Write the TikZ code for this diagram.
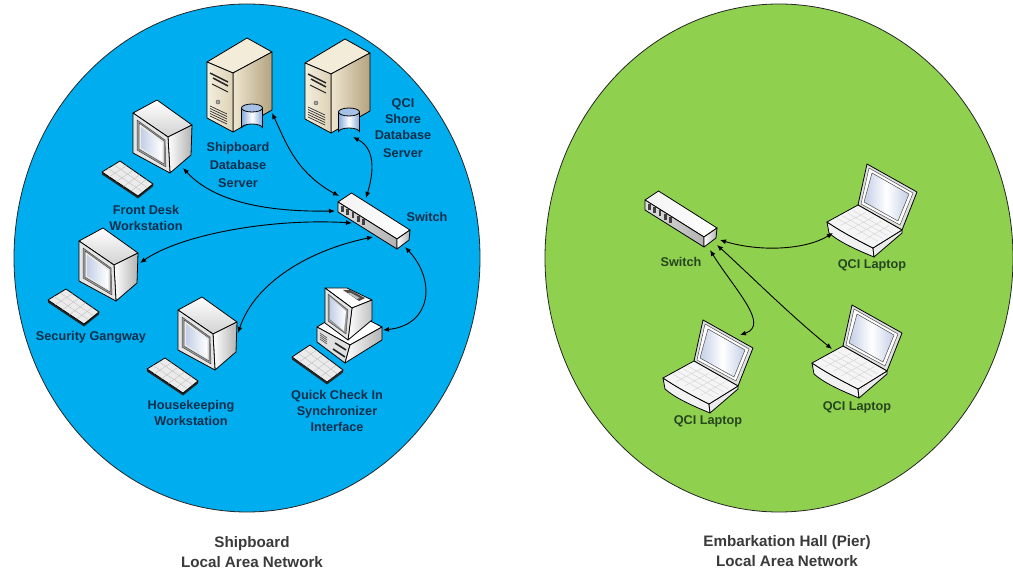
\documentclass[tikz,border=0pt]{standalone}
\usepackage{fontspec}
\setmainfont{Liberation Sans}
\usetikzlibrary{arrows.meta,calc}
\definecolor{lanblue}{HTML}{00ADEF}
\definecolor{langreen}{HTML}{8FD14F}
\definecolor{txtblue}{HTML}{0B2F4C}
\definecolor{txtgreen}{HTML}{27451F}
\definecolor{txtgrey}{HTML}{3A3A3A}
\definecolor{scrn}{HTML}{C4CFE6}
\definecolor{dbblue}{HTML}{86A9DA}
\definecolor{dbtop}{HTML}{A6C1E6}
\definecolor{srvtop}{HTML}{F3ECD8}
\definecolor{srvfa}{HTML}{F4EEDD}
\definecolor{srvfb}{HTML}{DDD2B6}
\definecolor{srvsa}{HTML}{EFE6CF}
\definecolor{srvsb}{HTML}{B3A380}
\tikzset{
  x=1pt,y=-1pt,
  lan/.style={draw=black!85,line width=.8pt},
  link/.style={{Latex[length=6pt,width=5pt]}-{Latex[length=6pt,width=5pt]},line width=.9pt,black},
  lblb/.style={font=\fontsize{12.7}{16}\selectfont\bfseries,text=txtblue,align=center,inner sep=0pt},
  lblg/.style={font=\fontsize{12.7}{16}\selectfont\bfseries,text=txtgreen,align=center,inner sep=0pt},
  captext/.style={font=\fontsize{15.2}{20}\selectfont\bfseries,text=txtgrey,align=center,inner sep=0pt},
  face/.style={draw=black,line width=.8pt,line join=round},
  thinface/.style={draw=black!70,line width=.5pt,line join=round},
  pics/keyboard/.style={code={
    \fill[black!85] (-31,59)--(5,83)--(5,85.5)--(-31,61.5)--cycle;
    \fill[black!85] (5,83)--(20,71)--(20,73.5)--(5,85.5)--cycle;
    \path[face,fill=black!8] (-31,59)--(-13,48)--(20,71)--(5,83)--cycle;
    \foreach \t in {.2,.4,.6,.8}{
      \draw[black!25,line width=.4pt] ($(-31,59)!\t!(5,83)$)--($(-13,48)!\t!(20,71)$);}
    \foreach \t in {.33,.66}{
      \draw[black!25,line width=.4pt] ($(-31,59)!\t!(-13,48)$)--($(5,83)!\t!(20,71)$);}
  }},
  pics/monitor/.style={code={
    \path[face,top color=white,bottom color=black!18] (0,0)--(24,-13)--(59,12)--(35,24)--cycle;
    \path[face,left color=white,right color=black!30] (35,24)--(59,12)--(58,42)--(37,60)--cycle;
    \path[face,fill=black!10] (0,0)--(35,24)--(37,60)--(0,40)--cycle;
    \path[thinface,fill=black!40] (4,7)--(32,27)--(33,54)--(4,37)--cycle;
    \path[thinface,fill=black!8] (6,10)--(31,28)--(31,51)--(6,36)--cycle;
    \path[left color=scrn,right color=white] (8,14)--(29,30)--(29,48)--(8,35)--cycle;
    \pic {keyboard};
  }},
  pics/server/.style={code={
    \path[face,fill=srvtop] (0,0)--(40,-24)--(65,-10)--(26,11)--cycle;
    \path[face,left color=srvsa,right color=srvsb] (26,11)--(65,-10)--(65,48)--(26,70)--cycle;
    \path[face,left color=srvfa,right color=srvfb] (0,0)--(26,11)--(26,70)--(0,56)--cycle;
    \draw[black!85,line width=1.5pt] (3,11)--(21,20) (6,16)--(21,24);
    \draw[black!85,line width=1pt] (5,22)--(21,30);
    \draw[black!70,fill=black!35,line width=.4pt] (11,40) circle (2);
    \foreach \d in {0,2.5,5,7.5,10}{
      \draw[black!80,line width=.7pt] (3,44+\d)--(20,52+\d);}
  }},
  pics/cylinder/.style={code={
    \path[face,left color=dbblue,right color=dbblue,middle color=white]
      (-10.5,-10)--(-10.5,10) arc[start angle=180,end angle=360,x radius=10.5,y radius=4]--(10.5,-10)--cycle;
    \path[face,fill=dbtop] (0,-10) ellipse[x radius=10.5,y radius=4];
  }},
  pics/switchbox/.style={code={
    \path[face,left color=black!5,right color=white] (0,0)--(13.5,-9)--(72,28)--(59,37)--cycle;
    \path[face,left color=black!12,right color=black!30] (0,0)--(59,37)--(59,47)--(0,10)--cycle;
    \path[face,left color=white,right color=black!30] (59,37)--(72,28)--(71,38)--(59,47)--cycle;
    \foreach \p in {0,1,2,3,4}{
      \fill[black!75] (3+\p*5.3,4+\p*3.2) rectangle ++(2.6,6);}
  }},
  pics/laptop/.style={code={
    \path[face,fill=black!12] (40,-58)--(90,-30)--(75,8)--(31,-17)--cycle;
    \path[thinface,fill=white] (42,-54)--(86,-29)--(73,3)--(34,-18)--cycle;
    \path[thinface,left color=scrn,right color=scrn,middle color=white] (45,-49)--(82,-28)--(71,-1)--(37,-20)--cycle;
    \path[face,fill=black!5] (0,0) .. controls (15,10) and (30,18) .. (46,26)--(47,35) .. controls (30,28) and (12,20) .. (2,11)--cycle;
    \path[face,fill=black!8] (46,26)--(75,8)--(75,11)--(47,35)--cycle;
    \path[face,fill=black!4] (0,0)--(31,-17)--(75,8)--(46,26) .. controls (30,18) and (15,10) .. (0,0)--cycle;
    \foreach \t in {.2,.4,.6,.8}{
      \draw[black!18,line width=.4pt] ($(5,-1)!\t!(46,22)$)--($(31,-14)!\t!(70,8)$);
      \draw[black!18,line width=.4pt] ($(5,-1)!\t!(31,-14)$)--($(46,22)!\t!(70,8)$);}
  }},
  pics/pcset/.style={code={
    \path[face,fill=white] (0,0)--(30,-18)--(65,0)--(33,18)--cycle;
    \path[face,fill=black!12] (0,0)--(33,18)--(28,36)--(0,15)--cycle;
    \path[face,left color=white,right color=black!30] (33,18)--(65,0)--(65,13)--(28,36)--cycle;
    \foreach \d in {0,2,4,6}{\draw[black!70,line width=.6pt] (3,6+\d)--(10,11+\d);}
    \draw[black!85,line width=1.6pt] (18,16)--(29,23) (16,22)--(28,30);
    \path[face,fill=white] (8,-39)--(30,-39)--(55,-27)--(35,-19)--cycle;
    \path[face,left color=white,right color=black!25] (35,-19)--(55,-27)--(55,-7)--(31,13)--cycle;
    \path[face,fill=black!10] (8,-39)--(35,-19)--(31,13)--(8,-4)--cycle;
    \path[thinface,fill=black!40] (11,-33)--(31,-17)--(29,7)--(11,-6)--cycle;
    \path[left color=scrn,right color=white] (13,-30)--(29,-16)--(27,4)--(13,-8)--cycle;
    \fill[black!70] (26,-37)--(33,-37)--(48,-29)--(42,-26)--cycle;
    \fill[black!25] (30,-34)--(34,-34)--(43,-29)--(40,-28)--cycle;
    \path[face,fill=black!8] (-25,30)--(-7,18)--(26,43)--(10,55)--cycle;
    \fill[black!85] (-25,30)--(10,55)--(10,57.5)--(-25,32.5)--cycle;
    \fill[black!85] (10,55)--(26,43)--(26,45.5)--(10,57.5)--cycle;
    \foreach \t in {.2,.4,.6,.8}{
      \draw[black!25,line width=.4pt] ($(-25,30)!\t!(10,55)$)--($(-7,18)!\t!(26,43)$);}
    \foreach \t in {.33,.66}{
      \draw[black!25,line width=.4pt] ($(-25,30)!\t!(-7,18)$)--($(10,55)!\t!(26,43)$);}
  }},
}
\begin{document}
\begin{tikzpicture}
\useasboundingbox (0,0) rectangle (1013,569);
\fill[white] (0,0) rectangle (1013,569);
\draw[lan,fill=lanblue] (247,258) ellipse[x radius=233,y radius=254];
\draw[lan,fill=langreen] (779,258) ellipse[x radius=234,y radius=254];

% shipboard devices
\pic at (207,62) {server};
\pic at (252,118) {cylinder};
\pic at (305,63) {server};
\pic at (349,122) {cylinder};
\pic at (133,113) {monitor};
\pic at (79,241) {monitor};
\pic at (178,310) {monitor};
\pic at (317,327) {pcset};
\pic at (338,202) {switchbox};

% pier devices
\pic at (645,200) {switchbox};
\pic at (827,222) {laptop};
\pic at (812,363) {laptop};
\pic at (663,378) {laptop};

% connector ends
\coordinate (fd) at (183,168);
\coordinate (sdb) at (272,113);
\coordinate (qdb) at (353,137);
\coordinate (sg) at (140,263);
\coordinate (hk) at (238,333);
\coordinate (qc) at (383,330);
\coordinate (swa) at (335,211);
\coordinate (swb) at (339,196);
\coordinate (swc) at (366,198);
\coordinate (swd) at (352,223);
\coordinate (swe) at (373,237);
\coordinate (swf) at (405,247);
\coordinate (psa) at (720,240);
\coordinate (psb) at (710,250);
\coordinate (psc) at (717,245);
\coordinate (lpa) at (833,233);
\coordinate (lpb) at (740,335);
\coordinate (lpc) at (832,349);

\draw[link] (fd) .. controls (215,203) and (270,212) .. (swa);
\draw[link] (sdb) .. controls (285,140) and (295,172) .. (swb);
\draw[link] (qdb) .. controls (378,150) and (372,178) .. (swc);
\draw[link] (sg) .. controls (180,235) and (270,218) .. (swd);
\draw[link] (hk) .. controls (255,282) and (310,250) .. (swe);
\draw[link] (qc) .. controls (432,325) and (436,280) .. (swf);
\draw[link] (psa) .. controls (760,252) and (805,250) .. (lpa);
\draw[link] (psb) .. controls (735,290) and (770,325) .. (lpb);
\draw[link] (psc) .. controls (750,275) and (790,315) .. (lpc);

% labels
\node[lblb] (l1) at (238,165) {Shipboard\\[1.2pt]Database\\[2pt]Server};
\node[lblb] (l2) at (403,128) {QCI\\Shore\\Database\\[2pt]Server};
\node[lblb] (l3) at (146,218) {Front Desk\\Workstation};
\node[lblb] (l4) at (427,217) {Switch};
\node[lblb] (l5) at (91,337) {Security Gangway};
\node[lblb] (l6) at (191,413) {Housekeeping\\Workstation};
\node[lblb] (l7) at (337,411) {Quick Check In\\Synchronizer\\Interface};
\node[lblg] (l8) at (681,262) {Switch};
\node[lblg] (l9) at (872,265) {QCI Laptop};
\node[lblg] (l10) at (857,407) {QCI Laptop};
\node[lblg] (l11) at (708,421) {QCI Laptop};
\node[captext] (c1) at (252,552) {Shipboard\\Local Area Network};
\node[captext] (c2) at (787,551) {Embarkation Hall (Pier)\\Local Area Network};
\end{tikzpicture}
\end{document}
